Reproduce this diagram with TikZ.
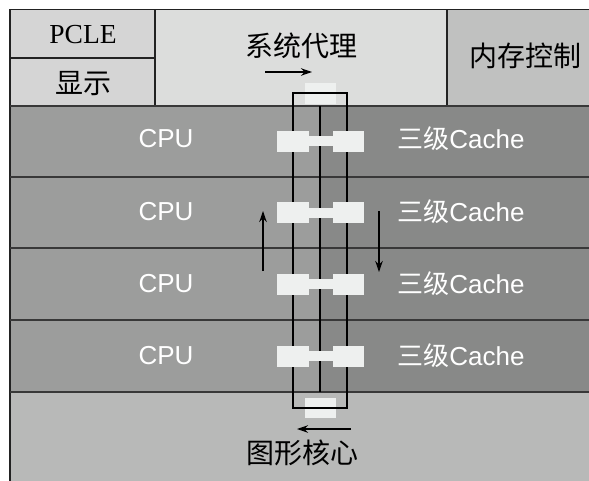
\documentclass[tikz,border=0pt]{standalone}
\usepackage{fontspec}
\setmainfont{Liberation Serif}
\newfontfamily\cjk{Noto Sans CJK SC}
\newfontfamily\hel{Liberation Sans}
\usetikzlibrary{arrows.meta}
\definecolor{pclegray}{HTML}{D5D5D5}
\definecolor{sysgray}{HTML}{DCDDDC}
\definecolor{memgray}{HTML}{C0C1C0}
\definecolor{cpugray}{HTML}{9C9D9C}
\definecolor{cachegray}{HTML}{888988}
\definecolor{gpugray}{HTML}{B8B9B8}
\definecolor{barwhite}{HTML}{EEF0EF}
\definecolor{linedark}{HTML}{222222}
\tikzset{
  frameline/.style={draw=linedark, line width=1.6pt},
  rowline/.style={draw=linedark!90, line width=2pt},
  ringbox/.style={draw=black, line width=1.5pt},
  flowarrow/.style={draw=black, line width=1.2pt, -{Stealth[length=11pt,width=7.5pt]}},
  cputext/.style={text=white, font=\hel\fontsize{26}{28}\selectfont},
  cachetext/.style={text=white, font=\cjk\fontsize{26}{28}\selectfont},
  toptext/.style={text=black, font=\cjk\fontsize{28}{30}\selectfont},
  pcletext/.style={text=black, font=\fontsize{27.5}{30}\selectfont},
}
\begin{document}
\begin{tikzpicture}[x=1pt,y=-1pt]
\useasboundingbox (0,0) rectangle (589,480);
\clip (0,0) rectangle (589,480);
% background fills
\fill[white] (0,0) rectangle (589,480);
\fill[pclegray] (10,10) rectangle (155,106);
\fill[sysgray] (155,10) rectangle (447,106);
\fill[memgray] (447,10) rectangle (600,106);
\fill[cpugray] (10,106) rectangle (320,392);
\fill[cachegray] (320,106) rectangle (600,392);
\fill[gpugray] (10,392) rectangle (600,490);
% top/bottom small white pads (under the ring outline)
\fill[barwhite] (305,83) rectangle (336,104);
\fill[barwhite] (305,398) rectangle (336,418);
% frame lines
\draw[frameline] (10,490) -- (10,9.5) -- (600,9.5);
\draw[frameline] (10,58) -- (155,58);
\draw[frameline] (155,9.5) -- (155,106);
\draw[frameline] (447,9.5) -- (447,106);
\draw[rowline] (10,106) -- (600,106);
\draw[rowline] (10,176.5) -- (600,176.5);
\draw[rowline] (10,248) -- (600,248);
\draw[rowline] (10,320) -- (600,320);
\draw[rowline] (10,392) -- (600,392);
% ring bus
\draw[ringbox] (293,93) rectangle (347,408);
\draw[ringbox] (320,106) -- (320,392);
% connector stops on each row
\foreach \c in {141,212.5,284,356}{
  \fill[barwhite] (277,\c-10.5) rectangle (309,\c+10.5);
  \fill[barwhite] (308,\c-5) rectangle (334,\c+5);
  \fill[barwhite] (333,\c-10.5) rectangle (364,\c+10.5);
}
% texts
\node[pcletext] (pcle) at (83,35) {PCLE};
\node[toptext] (disp) at (83,84) {显示};
\node[toptext] (sa) at (301,46) {系统代理};
\node[toptext] (mc) at (525,56) {内存控制};
\node[toptext] (gc) at (302,453) {图形核心};
\node[cputext] (cpu1) at (166,139) {CPU};
\node[cputext] (cpu2) at (166,212) {CPU};
\node[cputext] (cpu3) at (166,284) {CPU};
\node[cputext] (cpu4) at (166,356) {CPU};
\node[cachetext] (c1) at (461,139) {三级\hel Cache};
\node[cachetext] (c2) at (461,212) {三级\hel Cache};
\node[cachetext] (c3) at (461,284) {三级\hel Cache};
\node[cachetext] (c4) at (461,356) {三级\hel Cache};
% direction arrows
\coordinate (ta1) at (265,72); \coordinate (ta2) at (312,72);
\coordinate (ba1) at (351,429); \coordinate (ba2) at (297,429);
\coordinate (ua1) at (263,271); \coordinate (ua2) at (263,211);
\coordinate (da1) at (379,211); \coordinate (da2) at (379,272);
\draw[flowarrow] (ta1) -- (ta2);
\draw[flowarrow] (ba1) -- (ba2);
\draw[flowarrow] (ua1) -- (ua2);
\draw[flowarrow] (da1) -- (da2);
\end{tikzpicture}
\end{document}
